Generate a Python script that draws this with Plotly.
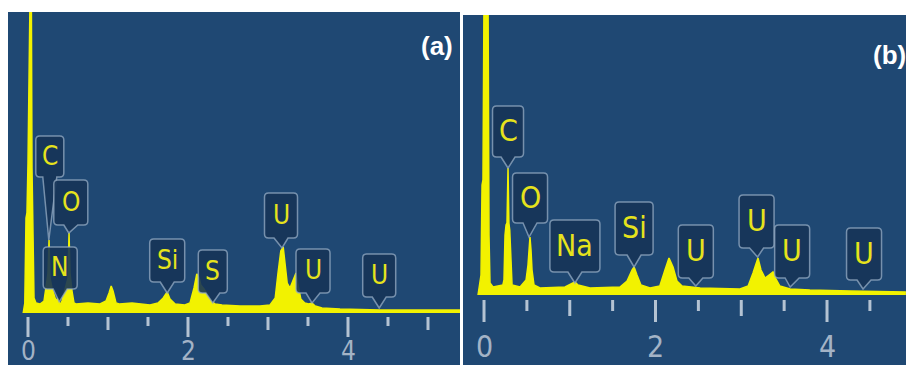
import plotly.graph_objects as go

# ---------------- data ----------------
# Panel (a) spectrum: energy (keV) and intensity (a.u.)
energy_a = [-0.06, -0.05, -0.04, -0.025, -0.013, 0.0, 0.013, 0.038, 0.05, 0.063, 0.075, 0.10,
            0.15, 0.20, 0.225, 0.25, 0.263, 0.275, 0.30, 0.325, 0.35, 0.375, 0.40, 0.425,
            0.45, 0.475, 0.50, 0.513, 0.525, 0.55, 0.575, 0.60, 0.75, 0.90, 0.975, 1.013,
            1.04, 1.063, 1.10, 1.14, 1.30, 1.525, 1.625, 1.69, 1.74, 1.775, 1.84, 1.96,
            2.025, 2.075, 2.11, 2.14, 2.16, 2.20, 2.24, 2.29, 2.34, 2.425, 2.65, 2.90,
            3.025, 3.09, 3.125, 3.16, 3.19, 3.21, 3.24, 3.275, 3.31, 3.35, 3.375, 3.41,
            3.46, 3.51, 3.55, 3.59, 3.675, 3.90, 4.40, 4.90, 5.40]
counts_a = [0, 6, 10, 95, 100, 150, 400, 400, 145, 60, 15, 10,
            9, 12, 25, 40, 73, 35, 25, 18, 12, 15, 8, 12,
            20, 25, 35, 80, 40, 22, 10, 9, 10, 9, 12, 20,
            27, 22, 10, 9, 10, 8, 10, 15, 21, 14, 9, 8,
            10, 25, 39, 35, 28, 24, 18, 12, 9, 8, 7, 7,
            8, 15, 40, 62, 66, 50, 30, 25, 33, 40, 28, 14,
            10, 9, 10, 7, 5, 4, 3, 3, 3]

# Panel (b) spectrum
energy_b = [-0.07, -0.058, -0.035, -0.023, -0.012, 0.0, 0.047, 0.058, 0.07, 0.105, 0.22,
            0.233, 0.245, 0.257, 0.268, 0.28, 0.29, 0.30, 0.315, 0.327, 0.42, 0.49, 0.513,
            0.525, 0.536, 0.548, 0.56, 0.583, 0.653, 0.945, 1.026, 1.06, 1.096, 1.236,
            1.586, 1.668, 1.726, 1.75, 1.784, 1.83, 1.936, 2.05, 2.11, 2.157, 2.204, 2.25,
            2.31, 2.52, 2.985, 3.08, 3.137, 3.172, 3.195, 3.23, 3.277, 3.324, 3.37, 3.405,
            3.45, 3.57, 3.80, 4.27, 4.92]
counts_b = [0, 8, 20, 110, 115, 300, 300, 60, 12, 8, 10,
            15, 60, 70, 72, 127, 72, 65, 20, 10, 8, 15, 30,
            48, 58, 45, 25, 10, 7, 8, 11, 13, 10, 7,
            8, 14, 25, 28, 20, 10, 7, 9, 25, 37, 28, 14,
            9, 7, 6, 9, 22, 32, 37, 25, 17, 20, 23, 16,
            9, 6, 5, 4, 3]

# Peak labels
labels_a = ["C", "O", "N", "Si", "S", "U", "U", "U"]
label_energy_a = [0.26, 0.51, 0.39, 1.74, 2.31, 3.175, 3.55, 4.39]
label_tip_a = [73, 80, 11, 20, 10, 65, 10, 5]

labels_b = ["C", "O", "Na", "Si", "U", "U", "U", "U"]
label_energy_b = [0.28, 0.525, 1.06, 1.75, 2.47, 3.19, 3.57, 4.42]
label_tip_b = [127, 58, 12, 28, 9, 38, 8, 6]

# Axis ticks (keV)
major_ticks = [0, 2, 4]
mid_ticks_a = [1, 3, 5]
minor_ticks_a = [0.5, 1.5, 2.5, 3.5, 4.5]
mid_ticks_b = [1, 3]
minor_ticks_b = [0.5, 1.5, 2.5, 3.5, 4.5]
tick_text = ["0", "2", "4"]
panel_titles = ["(a)", "(b)"]

# ---------------- style ----------------
W, H = 906, 365
BG = "#1f4873"
YEL = "#f2f200"
BOX_FILL = "rgba(22,52,88,0.90)"
BOX_LINE = "rgba(150,172,196,0.75)"
TICK_COL = "rgba(196,208,222,0.9)"
LBL_COL = "#e6e31c"
TXT_FONT = "Liberation Sans Narrow, DejaVu Sans Condensed, Roboto, sans-serif"

# callout box geometry (pixels): dx, gap, width, height
box_a = [(1, 63, 28, 41), (2, 8, 34, 45), (1, 13, 34, 42), (0, 11, 35, 43),
         (0, 10, 29, 43), (-1, 10, 33, 45), (1, 10, 34, 44), (0, 11, 33, 43)]
box_b = [(0, 11, 31, 51), (1, 14, 35, 50), (0, 11, 50, 52), (0, 12, 38, 53),
         (0, 8, 35, 53), (-1, 9, 35, 53), (2, 9, 35, 53), (1, 9, 35, 52)]

fig = go.Figure()
fig.add_trace(go.Scatter(x=energy_a, y=counts_a, xaxis="x", yaxis="y", mode="lines",
                         line=dict(color=YEL, width=1.5), fill="tozeroy", fillcolor=YEL,
                         hoverinfo="skip", showlegend=False))
fig.add_trace(go.Scatter(x=energy_b, y=counts_b, xaxis="x2", yaxis="y2", mode="lines",
                         line=dict(color=YEL, width=1.5), fill="tozeroy", fillcolor=YEL,
                         hoverinfo="skip", showlegend=False))


def callout_path(dx, L, w, h, r=4, pw=7):
    l = dx - w / 2
    rr = dx + w / 2
    b = L
    t = L + h
    return (f"M {dx - pw},{b} L 0,0 L {dx + pw},{b} L {rr - r},{b} Q {rr},{b} {rr},{b + r} "
            f"L {rr},{t - r} Q {rr},{t} {rr - r},{t} L {l + r},{t} Q {l},{t} {l},{t - r} "
            f"L {l},{b + r} Q {l},{b} {l + r},{b} Z")


shapes = []
annotations = []


def add_panel(xr, yr, labels, energies, tips, boxes, fsize, mids, minors,
              t0, tlen, label_y, label_size):
    for lab, e, tip, (dx, gap, w, h) in zip(labels, energies, tips, boxes):
        shapes.append(dict(type="path", xref=xr, yref=yr, xsizemode="pixel", ysizemode="pixel",
                           xanchor=e, yanchor=tip, path=callout_path(dx, gap, w, h),
                           fillcolor=BOX_FILL, line=dict(color=BOX_LINE, width=1.5),
                           layer="above"))
        annotations.append(dict(text=lab, x=e, y=tip, xref=xr, yref=yr, showarrow=False,
                                xshift=dx, yshift=gap + h / 2 + 1,
                                font=dict(family=TXT_FONT, size=fsize, color=LBL_COL)))
    for ticks, ln in ((major_ticks, tlen[0]), (mids, tlen[1]), (minors, tlen[2])):
        for tv in ticks:
            shapes.append(dict(type="line", xref=xr, yref=yr, x0=tv, x1=tv, y0=-t0, y1=-t0 - ln,
                               line=dict(color=TICK_COL, width=3), layer="above"))
    for tv, tt in zip(major_ticks, tick_text):
        annotations.append(dict(text=tt, x=tv, y=label_y, xref=xr, yref=yr, showarrow=False,
                                borderpad=0,
                                font=dict(family=TXT_FONT, size=label_size, color="#a3b3c6")))


add_panel("x", "y", labels_a, label_energy_a, label_tip_a, box_a, 26, mid_ticks_a, minor_ticks_a,
          4, (20, 13, 9), -38, 26)
add_panel("x2", "y2", labels_b, label_energy_b, label_tip_b, box_b, 30, mid_ticks_b, minor_ticks_b,
          5, (22, 16, 11), -51, 30)

annotations.append(dict(text="<b>" + panel_titles[0] + "</b>", x=437 / W, y=1 - 29 / H,
                        xref="paper", yref="paper", showarrow=False,
                        font=dict(family="Liberation Sans, Arial, sans-serif", size=26, color="white")))
annotations.append(dict(text="<b>" + panel_titles[1] + "</b>", x=871 / W, y=1 - 38 / H,
                        xref="paper", yref="paper", showarrow=False, xanchor="left",
                        font=dict(family="Liberation Sans, Arial, sans-serif", size=26, color="white")))

ax_common = dict(showgrid=False, zeroline=False, showticklabels=False, ticks="", showline=False,
                 fixedrange=True)
fig.update_layout(
    width=W, height=H, margin=dict(l=0, r=0, t=0, b=0),
    paper_bgcolor="white", plot_bgcolor=BG,
    xaxis=dict(domain=[8 / W, 460 / W], range=[-0.25, 5.4], anchor="y", **ax_common),
    yaxis=dict(domain=[0, 353 / H], range=[-52, 301], anchor="x", **ax_common),
    xaxis2=dict(domain=[463 / W, 1], range=[-0.245, 4.921], anchor="y2", **ax_common),
    yaxis2=dict(domain=[0, 350 / H], range=[-70, 280], anchor="x2", **ax_common),
    shapes=shapes, annotations=annotations, showlegend=False,
)

fig.write_html("out.html")
